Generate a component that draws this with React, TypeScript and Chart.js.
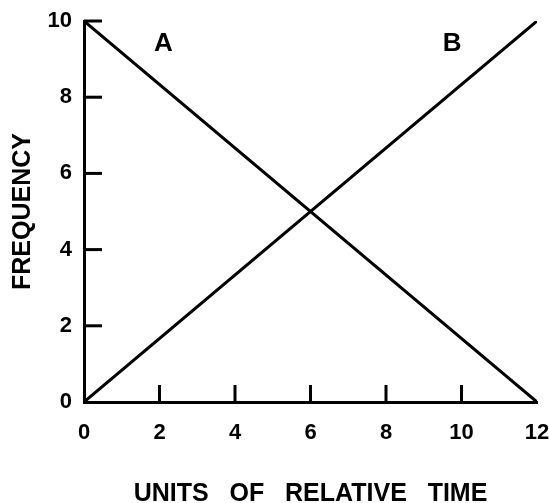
import React, { useEffect, useRef } from "react";
import { Chart, registerables } from "chart.js";

Chart.register(...registerables);

const xRange = [0, 12];
const yRange = [0, 10];
const lineA = [
  { x: 0, y: 10 },
  { x: 12, y: 0 },
];
const lineB = [
  { x: 0, y: 0 },
  { x: 12, y: 10 },
];
const curveLabels = [
  { text: "A", x: 2.1, y: 9.4 },
  { text: "B", x: 9.75, y: 9.4 },
];
const xTitle = "UNITS   OF   RELATIVE   TIME";
const yTitle = "FREQUENCY";

const FONT = "'Liberation Sans', Arial, Helvetica, sans-serif";

const inwardTicks = {
  id: "inwardTicks",
  afterDraw(chart: any) {
    const ctx = chart.ctx;
    const xs = chart.scales.x;
    const ys = chart.scales.y;
    const area = chart.chartArea;
    ctx.save();
    ctx.strokeStyle = "#000";
    ctx.lineWidth = 3;
    ctx.lineCap = "butt";
    const len = 17;
    xs.ticks.forEach((t: any) => {
      if (t.value <= xRange[0] || t.value >= xRange[1]) return;
      const px = xs.getPixelForValue(t.value);
      ctx.beginPath();
      ctx.moveTo(px, area.bottom);
      ctx.lineTo(px, area.bottom - len);
      ctx.stroke();
    });
    ys.ticks.forEach((t: any) => {
      if (t.value <= yRange[0]) return;
      const py = ys.getPixelForValue(t.value);
      ctx.beginPath();
      ctx.moveTo(area.left, py);
      ctx.lineTo(area.left + len + 1, py);
      ctx.stroke();
    });
    ctx.fillStyle = "#000";
    ctx.font = `bold 26px ${FONT}`;
    ctx.textAlign = "center";
    ctx.textBaseline = "middle";
    curveLabels.forEach((l) => {
      ctx.fillText(l.text, xs.getPixelForValue(l.x), ys.getPixelForValue(l.y));
    });
    ctx.restore();
  },
};

export default function App() {
  const ref = useRef<HTMLCanvasElement>(null);
  useEffect(() => {
    if (!ref.current) return;
    const chart = new Chart(ref.current, {
      type: "scatter",
      data: {
        datasets: [
          {
            label: "A",
            data: lineA,
            showLine: true,
            borderColor: "#000",
            backgroundColor: "#000",
            borderWidth: 3,
            pointRadius: 0,
          },
          {
            label: "B",
            data: lineB,
            showLine: true,
            borderColor: "#000",
            backgroundColor: "#000",
            borderWidth: 3,
            pointRadius: 0,
          },
        ],
      },
      options: {
        animation: false,
        responsive: false,
        maintainAspectRatio: false,
        layout: { padding: { top: 21, right: 12, left: 0, bottom: 0 } },
        plugins: {
          legend: { display: false },
          tooltip: { enabled: false },
        },
        scales: {
          x: {
            type: "linear",
            min: xRange[0],
            max: xRange[1],
            grid: { display: false, drawTicks: false },
            border: { display: true, color: "#000", width: 3 },
            ticks: {
              stepSize: 2,
              color: "#000",
              padding: 18,
              font: { family: FONT, size: 22, weight: "bold" },
            },
            title: {
              display: true,
              text: xTitle,
              color: "#000",
              font: { family: FONT, size: 25, weight: "bold", lineHeight: 0.7 },
              padding: { top: 0, bottom: 0 },
            },
            afterFit(scale: any) {
              scale.height = 101;
              scale.paddingLeft = 0;
              scale.paddingRight = 0;
            },
          },
          y: {
            type: "linear",
            min: yRange[0],
            max: yRange[1],
            grid: { display: false, drawTicks: false },
            border: { display: true, color: "#000", width: 3 },
            ticks: {
              stepSize: 2,
              color: "#000",
              padding: 12,
              font: { family: FONT, size: 22, weight: "bold" },
            },
            title: {
              display: true,
              text: yTitle,
              color: "#000",
              font: { family: FONT, size: 25, weight: "bold", lineHeight: 1 },
              padding: { top: 11, bottom: 0 },
            },
            afterFit(scale: any) {
              scale.width = 84;
              scale.paddingTop = 0;
              scale.paddingBottom = 0;
            },
          },
        },
      },
      plugins: [inwardTicks],
    } as any);
    return () => chart.destroy();
  }, []);
  return (
    <div style={{ position: "fixed", left: 0, top: 0, width: 549, height: 503, background: "#fff" }}>
      <canvas ref={ref} width={549} height={503} style={{ width: 549, height: 503 }} />
    </div>
  );
}
